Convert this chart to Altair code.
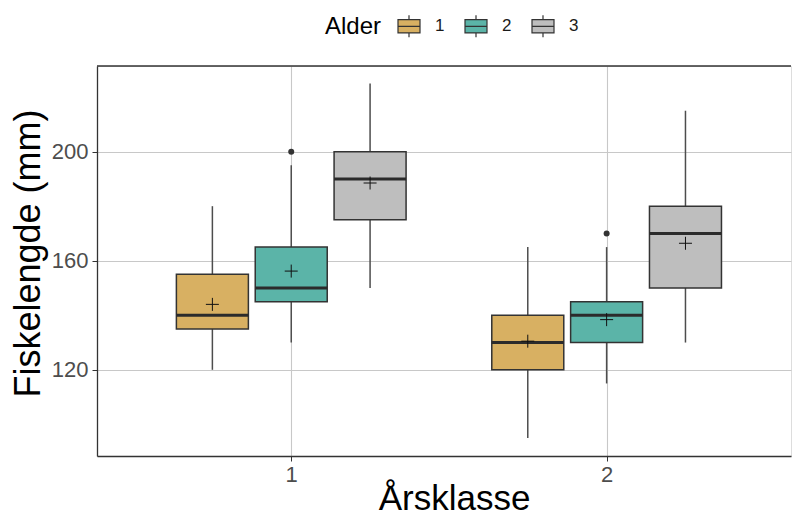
import altair as alt
import pandas as pd

# --- data ---
aarsklasse = [1, 1, 1, 2, 2, 2]
alder = ["1", "2", "3", "1", "2", "3"]
whisker_low = [120, 130, 150, 95, 115, 130]
q1 = [135, 145, 175, 120, 130, 150]
median = [140, 150, 190, 130, 140, 170]
q3 = [155, 165, 200, 140, 145, 180]
whisker_high = [180, 195, 225, 165, 165, 215]
mean = [144, 156.2, 188.5, 130.5, 138.4, 166.4]

outlier_klasse = [1, 2]
outlier_alder = ["2", "2"]
outlier_value = [200, 170]

alder_levels = ["1", "2", "3"]
alder_colors = ["#D8B062", "#5BB4A8", "#BEBEBE"]

df = pd.DataFrame({
    "klasse": aarsklasse, "Alder": alder, "lo": whisker_low, "q1": q1,
    "med": median, "q3": q3, "hi": whisker_high, "mean": mean,
})
dfo = pd.DataFrame({"klasse": outlier_klasse, "Alder": outlier_alder, "val": outlier_value})

W, H = 694, 390
FONT = "Liberation Sans"
DODGE = 0.25

xscale = alt.Scale(domain=[0.4, 0.4 + W / 320], nice=False, zero=False)
yscale = alt.Scale(domain=[88.4, 231.4], nice=False, zero=False)

pos_calc = f"datum.klasse + (toNumber(datum.Alder) - 2) * {DODGE}"

x_enc = alt.X("xpos:Q", scale=xscale, title="Årsklasse",
              axis=alt.Axis(values=[1, 2], format="d", grid=True, gridColor="#c8c8c8",
                            gridWidth=1.1, domainColor="#333333", domainWidth=1.3,
                            tickColor="#333333", tickSize=5, labelFontSize=22,
                            labelColor="#4d4d4d", labelPadding=3, labelFont=FONT,
                            titleFont=FONT, titleFontSize=35, titleFontWeight="normal",
                            titleColor="#000000", titleX=357, titleY=53,
                            titleBaseline="alphabetic", titleAlign="center"))
y_axis = alt.Axis(values=[120, 160, 200], grid=True, gridColor="#c8c8c8", gridWidth=1.1,
                  domainColor="#333333", domainWidth=1.3, tickColor="#333333", tickSize=5,
                  labelFontSize=22, labelColor="#4d4d4d", labelPadding=4, labelFont=FONT,
                  titleFont=FONT, titleFontSize=36, titleFontWeight="normal",
                  titleColor="#000000", titleX=-58, titleY=187, titleAngle=-90,
                  titleBaseline="alphabetic", titleAlign="center")

base = alt.Chart(df).transform_calculate(xpos=pos_calc)

whiskers = base.mark_rule(color="#4d4d4d", strokeWidth=1.5).encode(
    x=x_enc,
    y=alt.Y("lo:Q", scale=yscale, axis=y_axis, title="Fiskelengde (mm)"),
    y2="hi:Q",
)

legend_path = "M-1,-0.6H1V0.6H-1Z M-1,0H1 M0,-1V-0.6 M0,0.6V1"

boxes = base.mark_bar(size=72, stroke="#333333", strokeWidth=1.5).encode(
    x=alt.X("xpos:Q", scale=xscale),
    y=alt.Y("q1:Q", scale=yscale),
    y2="q3:Q",
    fill=alt.Fill("Alder:N", scale=alt.Scale(domain=alder_levels, range=alder_colors),
                  legend=alt.Legend(title="Alder", orient="none", direction="horizontal",
                                    legendX=228, legendY=-52, titleOrient="left",
                                    titleFont=FONT, titleFontSize=24, titleFontWeight="normal",
                                    titleColor="#000000", titlePadding=15,
                                    titleBaseline="middle",
                                    labelFont=FONT, labelFontSize=17, labelColor="#1a1a1a",
                                    labelOffset=14, columnPadding=17,
                                    symbolType=legend_path, symbolSize=484,
                                    symbolStrokeColor="#333333", symbolStrokeWidth=1.2,
                                    symbolOpacity=1)),
)

medians = base.mark_tick(orient="horizontal", size=72, thickness=3, color="#2b2b2b",
                         opacity=1).encode(
    x=alt.X("xpos:Q", scale=xscale),
    y=alt.Y("med:Q", scale=yscale),
)

means = base.mark_point(shape="M-1,0H1M0,-1V1", size=169, filled=False,
                        stroke="#111111", strokeWidth=1, opacity=1).encode(
    x=alt.X("xpos:Q", scale=xscale),
    y=alt.Y("mean:Q", scale=yscale),
)

outliers = alt.Chart(dfo).transform_calculate(xpos=pos_calc).mark_circle(
    size=36, color="#333333", opacity=1).encode(
    x=alt.X("xpos:Q", scale=xscale),
    y=alt.Y("val:Q", scale=yscale),
)

frame_top = alt.Chart(pd.DataFrame({"k": [0]})).mark_rule(
    color="#333333", strokeWidth=1.3).encode(
    x=alt.value(0), x2=alt.value(W), y=alt.value(0))

chart = alt.layer(whiskers, boxes, medians, means, outliers, frame_top).properties(
    width=W, height=H,
    autosize=alt.AutoSizeParams(type="none"),
    padding={"left": 97, "top": 66, "right": 1, "bottom": 61},
).configure_view(stroke=None).configure(background="white")

chart.save("out.html", embed_options={"renderer": "svg", "actions": False})
